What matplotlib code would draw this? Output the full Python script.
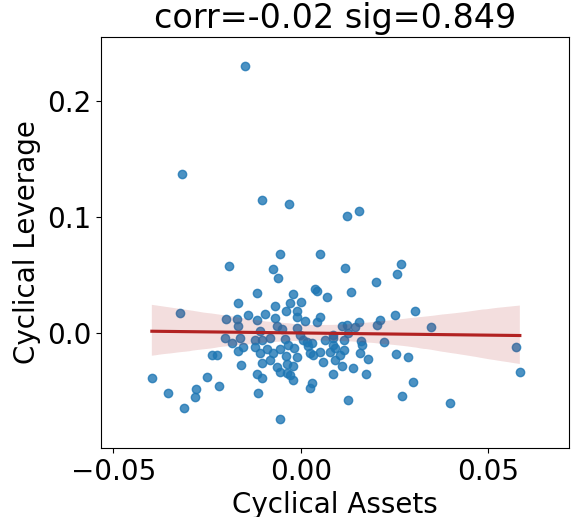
import numpy as np
import matplotlib
matplotlib.use("Agg")
import matplotlib.pyplot as plt
import seaborn as sns

# values
cyc_assets = [
    -0.01485, -0.03173, -0.01024, -0.00312, 0.01235, 0.01547, -0.00552, 0.00528,
    -0.01904, -0.00747, -0.00613, -0.01165, -0.00219, 0.00381, 0.00427, 0.00709,
    0.0001, -0.00285, -0.01664, -0.00685, -0.00392, -0.00107, -0.03211, -0.01413,
    -0.00965, -0.02, -0.01707, -0.01173, -0.00685, -0.00107, 0.00115, 0.00427,
    0.00515, -0.01664, -0.0064, -0.00507, -0.00107, -0.01085, -0.02019, -0.0184,
    -0.01619, -0.0104, -0.00819, -0.00419, 0.00069, 0.00293, 0.00869, -0.01531,
    -0.01219, -0.01664, -0.00907, -0.00552, -0.00731, 0.00248, 0.00515, 0.00781,
    -0.02373, -0.0224, -0.00107, -0.00405, -0.00171, -0.0104, -0.016, -0.00373,
    -0.00213, 0.00587, -0.0064, -0.00552, -0.00373, -0.03973, -0.02499, -0.01173,
    -0.0104, -0.00285, -0.00219, 0.00869, -0.02187, -0.02792, -0.03547, -0.02819,
    -0.01139, 0.00293, 0.00248, -0.03104, -0.00552, 0.01173, 0.02683, 0.0256,
    0.02008, 0.01349, 0.03056, 0.02507, 0.02115, 0.02027, 0.01547, 0.01093,
    0.01227, 0.03483, 0.00853, 0.01269, 0.01448, 0.02221, 0.016, 0.01635,
    0.01155, 0.00869, 0.01163, 0.01581, 0.0016, 0.00203, 0.0032, 0.05733,
    0.02533, 0.02861, 0.01048, 0.00915, 0.01093, 0.01787, 0.01387, 0.01733,
    0.05848, 0.02987, 0.01269, 0.02709, 0.03981, -0.01219, -0.01085, 0.00915,
    -0.0033, -0.0082, -0.0002, 0.0065,
]
cyc_leverage = [
    0.2303, 0.1368, 0.1150, 0.1113, 0.1012, 0.1050, 0.0682, 0.0682,
    0.0582, 0.0553, 0.0473, 0.0344, 0.0338, 0.0381, 0.0368, 0.0315,
    0.0272, 0.0258, 0.0258, 0.0238, 0.0194, 0.0196, 0.0177, 0.0157,
    0.0169, 0.0120, 0.0120, 0.0114, 0.0129, 0.0138, 0.0108, 0.0097,
    0.0138, 0.0063, 0.0059, 0.0037, 0.0050, 0.0022, -0.0043, -0.0081,
    -0.0043, -0.0058, -0.0043, -0.0053, -0.0058, -0.0086, -0.0043, -0.0120,
    -0.0120, -0.0148, -0.0135, -0.0139, -0.0172, -0.0172, -0.0158, -0.0158,
    -0.0187, -0.0187, -0.0200, -0.0191, -0.0129, -0.0253, -0.0273, -0.0268,
    -0.0277, -0.0244, -0.0293, -0.0330, -0.0344, -0.0387, -0.0373, -0.0353,
    -0.0387, -0.0359, -0.0398, -0.0353, -0.0454, -0.0479, -0.0511, -0.0551,
    -0.0511, -0.0425, -0.0471, -0.0640, -0.0738, 0.0562, 0.0594, 0.0513,
    0.0444, 0.0355, 0.0194, 0.0155, 0.0114, 0.0071, 0.0100, 0.0063,
    0.0071, 0.0057, -0.0015, 0.0000, 0.0052, -0.0072, -0.0064, -0.0103,
    -0.0058, -0.0101, -0.0144, -0.0167, -0.0072, -0.0109, -0.0187, -0.0120,
    -0.0181, -0.0201, -0.0187, -0.0230, -0.0281, -0.0224, -0.0301, -0.0350,
    -0.0333, -0.0422, -0.0571, -0.0540, -0.0600, -0.0058, -0.0172, -0.0129,
    -0.0101, -0.0230, -0.0015, -0.0058,
]
title_text = "corr=-0.02 sig=0.849"
x_ticks = [-0.05, 0.0, 0.05]
y_ticks = [0.0, 0.1, 0.2]

plt.rcParams["font.size"] = 20

fig = plt.figure(figsize=(5.71, 5.17), dpi=100)
ax = fig.add_axes([101 / 571, 1 - 448 / 517, 468 / 571, 411.3 / 517])

sns.regplot(x=np.array(cyc_assets), y=np.array(cyc_leverage), ax=ax,
            color="C0", line_kws={"color": "firebrick"}, seed=0)

ax.set_xlim(-0.0533, 0.0716)
ax.set_ylim(-0.0987, 0.2553)
ax.set_xticks(x_ticks)
ax.set_yticks(y_ticks)
ax.set_xlabel("Cyclical Assets")
ax.set_ylabel("Cyclical Leverage")
ax.set_title(title_text)

fig.savefig("out.png", dpi=100)
